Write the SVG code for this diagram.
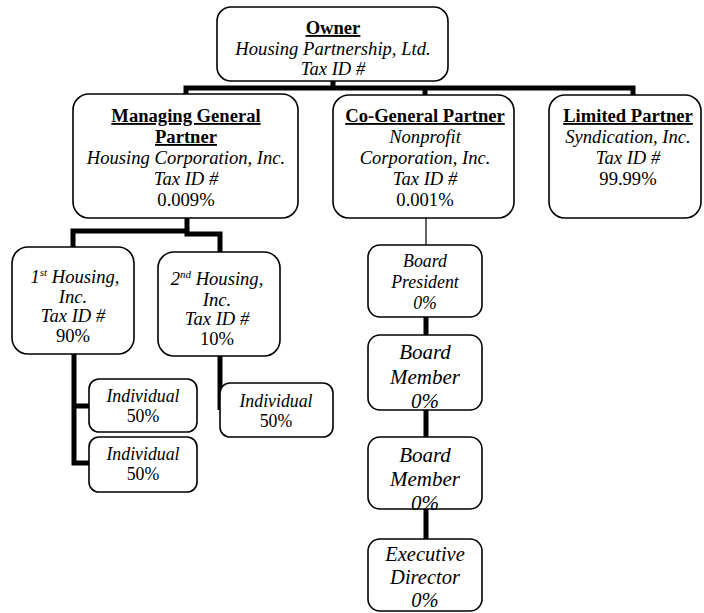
<svg xmlns="http://www.w3.org/2000/svg" width="704" height="613" viewBox="0 0 704 613">
<style>
.box{fill:#fff;stroke:#000;stroke-width:1.6}
.t{font-family:"Liberation Serif","Times New Roman",serif;font-size:18.6px;text-anchor:middle;fill:#000}
.s{font-size:17.8px}
.i{font-style:italic}
.b{font-weight:bold;text-decoration:underline}
.big{font-size:21px}
.c{fill:none;stroke:#000;stroke-width:5}
.thin{fill:none;stroke:#000;stroke-width:1.2}
</style>
<rect width="704" height="613" fill="#fff"/>
<g id="connectors">
<path class="c" d="M333,81 V88 M186,94 V88 H633 V95 M425,88 V95"/>
<path class="c" d="M187,218 V234 H220 V252 M187,231 H73 V248"/>
<path class="c" d="M74,354 V463 H89 M74,406 H89"/>
<path class="c" d="M220,356 V410"/>
<path class="thin" d="M426,218 V245"/>
<path class="c" d="M426,317 V335 M426,410 V437 M426,509 V539"/>
</g>
<g id="owner">
<rect class="box" x="217" y="7" width="231" height="74" rx="14"/>
<text class="t b" x="333" y="34">Owner</text>
<text class="t i" x="333" y="55">Housing Partnership, Ltd.</text>
<text class="t i" x="333" y="75">Tax ID #</text>
</g>
<g id="managing-general-partner">
<rect class="box" x="73" y="94" width="225" height="124" rx="16"/>
<text class="t b" x="186" y="122">Managing General</text>
<text class="t b" x="186" y="143">Partner</text>
<text class="t i" x="186" y="164">Housing Corporation, Inc.</text>
<text class="t i" x="186" y="185">Tax ID #</text>
<text class="t" x="186" y="206">0.009%</text>
</g>
<g id="co-general-partner">
<rect class="box" x="333" y="95" width="181" height="123" rx="16"/>
<text class="t b" x="425" y="122">Co-General Partner</text>
<text class="t i" x="425" y="143">Nonprofit</text>
<text class="t i" x="425" y="164">Corporation, Inc.</text>
<text class="t i" x="425" y="185">Tax ID #</text>
<text class="t" x="425" y="206">0.001%</text>
</g>
<g id="limited-partner">
<rect class="box" x="549" y="95" width="152" height="123" rx="16"/>
<text class="t b" x="628" y="122">Limited Partner</text>
<text class="t i" x="628" y="143">Syndication, Inc.</text>
<text class="t i" x="628" y="164">Tax ID #</text>
<text class="t" x="628" y="185">99.99%</text>
</g>
<g id="first-housing">
<rect class="box" x="12" y="247" width="122" height="107" rx="16"/>
<text class="t i" x="75" y="283">1<tspan font-size="11" dy="-7">st</tspan><tspan dy="7"> Housing,</tspan></text>
<text class="t i" x="73" y="303">Inc.</text>
<text class="t i" x="73" y="322">Tax ID #</text>
<text class="t" x="73" y="342">90%</text>
</g>
<g id="second-housing">
<rect class="box" x="158" y="252" width="122" height="104" rx="16"/>
<text class="t i" x="217" y="285">2<tspan font-size="11" dy="-7">nd</tspan><tspan dy="7"> Housing,</tspan></text>
<text class="t i" x="217" y="306">Inc.</text>
<text class="t i" x="217" y="325">Tax ID #</text>
<text class="t" x="217" y="345">10%</text>
</g>
<g id="individual-1">
<rect class="box" x="89" y="379" width="108" height="53" rx="10"/>
<text class="t s i" x="143" y="402">Individual</text>
<text class="t s" x="143" y="422">50%</text>
</g>
<g id="individual-2">
<rect class="box" x="89" y="437" width="108" height="55" rx="10"/>
<text class="t s i" x="143" y="460">Individual</text>
<text class="t s" x="143" y="480">50%</text>
</g>
<g id="individual-3">
<rect class="box" x="220" y="383" width="113" height="54" rx="10"/>
<text class="t s i" x="276" y="407">Individual</text>
<text class="t s" x="276" y="427">50%</text>
</g>
<g id="board-president">
<rect class="box" x="368" y="245" width="114" height="72" rx="12"/>
<text class="t s i" x="425" y="267">Board</text>
<text class="t s i" x="425" y="288">President</text>
<text class="t s i" x="425" y="309">0%</text>
</g>
<g id="board-member-1">
<rect class="box" x="368" y="335" width="114" height="75" rx="12"/>
<text class="t i big" x="425" y="359">Board</text>
<text class="t i big" x="425" y="384">Member</text>
<text class="t i big" x="425" y="408">0%</text>
</g>
<g id="board-member-2">
<rect class="box" x="368" y="437" width="114" height="72" rx="12"/>
<text class="t i big" x="425" y="462">Board</text>
<text class="t i big" x="425" y="486">Member</text>
<text class="t i big" x="425" y="510">0%</text>
</g>
<g id="executive-director">
<rect class="box" x="368" y="539" width="114" height="72" rx="12"/>
<text class="t i" style="font-size:20.5px" x="425" y="561">Executive</text>
<text class="t i" style="font-size:20.5px" x="425" y="584">Director</text>
<text class="t i" style="font-size:20.5px" x="425" y="607">0%</text>
</g>
</svg>
